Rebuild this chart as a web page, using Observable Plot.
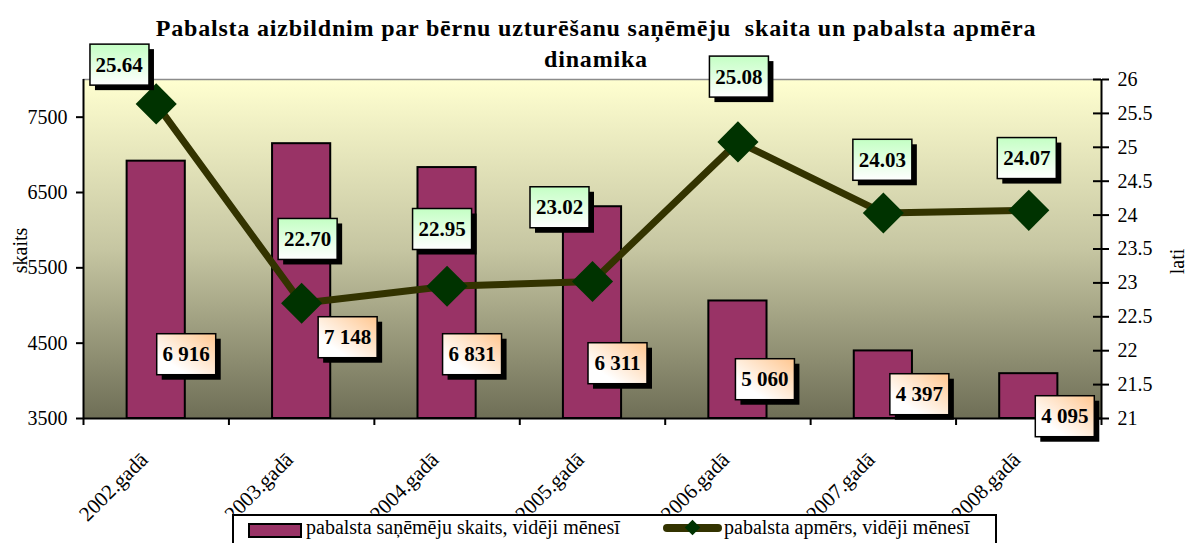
<!DOCTYPE html>
<html>
<head>
<meta charset="utf-8">
<script src="https://cdn.jsdelivr.net/npm/d3@7"></script>
<script src="https://cdn.jsdelivr.net/npm/@observablehq/plot@0.6"></script>
<style>
  body { margin: 0; background: #fff; }
  #wrap { position: relative; width: 1190px; height: 543px; overflow: hidden;
          font-family: "Liberation Serif", "Times New Roman", Tinos, "DejaVu Serif", serif; color: #000; }
  #chart { position: absolute; left: 0; top: 0; }
  .tline { position: absolute; left: 0; width: 1192px; text-align: center; white-space: pre;
           font-weight: bold; font-size: 24px; letter-spacing: 0.8px; line-height: 28px; z-index: 1; pointer-events: none; }
  .tline span { display: inline-block; }
  .ylab { position: absolute; font-size: 20px; white-space: nowrap; transform-origin: center center; }
  #legend { position: absolute; left: 232px; top: 514px; width: 761px; height: 44px;
            border: 2px solid #000; background: #fff; font-size: 20px; }
  #legend .item { position: absolute; top: 4px; white-space: nowrap; }
</style>
</head>
<body>
<div id="wrap">
  <div id="chart"></div>
  <div class="tline" id="title1" style="top:14px"><span></span></div>
  <div class="tline" id="title2" style="top:45px"><span></span></div>
  <div class="ylab" id="ylabL"></div>
  <div class="ylab" id="ylabR"></div>
  <div id="legend"></div>
</div>
<script>
// ---- data ----
const titleLines = ["Pabalsta aizbildnim par bērnu uzturēšanu saņēmēju  skaita un pabalsta apmēra", "dinamika"];
const years = ["2002.gadā", "2003.gadā", "2004.gadā", "2005.gadā", "2006.gadā", "2007.gadā", "2008.gadā"];
const recipients = [6916, 7148, 6831, 6311, 5060, 4397, 4095];
const amounts = [25.64, 22.70, 22.95, 23.02, 25.08, 24.03, 24.07];
const leftTicks = [3500, 4500, 5500, 6500, 7500];
const rightTicks = [21, 21.5, 22, 22.5, 23, 23.5, 24, 24.5, 25, 25.5, 26];
const leftAxisTitle = "skaits";
const rightAxisTitle = "lati";
const seriesNames = ["pabalsta saņēmēju skaits, vidēji mēnesī", "pabalsta apmērs, vidēji mēnesī"];

// ---- layout (pixel offsets of the data-label boxes) ----
const barLabelOffsets = [[30, -64], [46, -81], [25, -64], [25, -55], [27, -39], [36, -24], [36, -2]];
const lineLabelOffsets = [[-37, -39], [6, -64], [-5, -57], [-33, -74], [1, -65], [-1, -53], [-2, -52]];

const yMin = 3500, yMax = 8000, rMin = 21, rMax = 26;
const toLeft = v => yMin + (v - rMin) * (yMax - yMin) / (rMax - rMin);
const fromLeft = v => rMin + (v - yMin) * (rMax - rMin) / (yMax - yMin);
const fmtN = n => d3.format(",")(n).replace(/,/g, " ");

const rows = years.map((y, i) => ({ i, year: y, n: recipients[i], a: amounts[i], ay: toLeft(amounts[i]) }));

const W = 1190, H = 543, ML = 83, MR = 89, MT = 79, MB = 125;
const pxPerX = (W - ML - MR) / 7;
const FONT = "'Liberation Serif', 'Times New Roman', Tinos, 'DejaVu Serif', serif";

const chart = Plot.plot({
  width: W, height: H,
  marginLeft: ML, marginRight: MR, marginTop: MT, marginBottom: MB,
  style: { fontFamily: FONT, fontSize: "20px", color: "#000", background: "transparent", overflow: "visible" },
  x: { type: "linear", domain: [-0.5, 6.5] },
  y: { domain: [yMin, yMax] },
  marks: [
    Plot.frame({ fill: "url(#bgGrad)", stroke: "none" }),
    Plot.ruleY([yMax], { stroke: "#8c8c8c", strokeWidth: 1.5 }),
    Plot.rectY(rows, { x1: d => d.i - 0.2, x2: d => d.i + 0.2, y1: yMin, y2: "n", fill: "#993366", stroke: "#000", strokeWidth: 2 }),
    Plot.ruleX([-0.5, 6.5], { stroke: "#000", strokeWidth: 2 }),
    Plot.ruleY([yMin], { stroke: "#000", strokeWidth: 2 }),
    Plot.axisY({ ticks: leftTicks, tickFormat: d => String(d), tickSize: 7, tickPadding: 9, strokeWidth: 2, label: null, fill: "#000" }),
    Plot.axisY({ anchor: "right", ticks: rightTicks.map(toLeft), tickFormat: v => String(+fromLeft(v).toFixed(1)),
                 tickSize: 7, tickPadding: 9, strokeWidth: 2, label: null, fill: "#000" }),
    Plot.ruleY(rightTicks.map(toLeft), { x1: 6.5 - 8 / pxPerX, x2: 6.5, stroke: "#000", strokeWidth: 2 }),
    Plot.axisX({ ticks: d3.range(-0.5, 7, 1), tickSize: 7, strokeWidth: 2, tickFormat: () => "", label: null }),
    Plot.axisX({ ticks: d3.range(0, 7), tickSize: 0, tickRotate: -45, tickFormat: i => years[i], label: null,
                 fill: "#000", fontSize: 21, dx: -12, dy: 26 }),
    Plot.line(rows, { x: "i", y: "ay", stroke: "#333300", strokeWidth: 7 }),
    Plot.dot(rows, { x: "i", y: "ay", symbol: "square", r: 16.4, rotate: 45, fill: "#003300", stroke: "none" }),
    Plot.text(rows, { x: "i", y: () => yMin, text: d => fmtN(d.n), fontWeight: "bold", fontSize: 21, fill: "#000" }),
    Plot.text(rows, { x: "i", y: "ay", text: d => d.a.toFixed(2), fontWeight: "bold", fontSize: 21, fill: "#000" })
  ]
});

document.getElementById("chart").appendChild(chart);

// gradients
const NS = "http://www.w3.org/2000/svg";
const defs = document.createElementNS(NS, "defs");
defs.innerHTML = `
  <linearGradient id="bgGrad" x1="0" y1="0" x2="0" y2="1">
    <stop offset="0" stop-color="#FFFFD0"/>
    <stop offset="0.5" stop-color="#C6C6A2"/>
    <stop offset="1" stop-color="#6E6E56"/>
  </linearGradient>
  <linearGradient id="greenGrad" x1="0" y1="0" x2="0" y2="1">
    <stop offset="0" stop-color="#C4FFC4"/>
    <stop offset="1" stop-color="#FFFFFF"/>
  </linearGradient>
  <linearGradient id="peachGrad" x1="1" y1="0" x2="0" y2="1">
    <stop offset="0" stop-color="#FFC68F"/>
    <stop offset="0.75" stop-color="#FFFFFF"/>
  </linearGradient>`;
chart.insertBefore(defs, chart.firstChild);

const textGroups = Array.from(chart.querySelectorAll('g[aria-label="text"]'));

function boxLabels(g, offsets, grad) {
  if (!g) return;
  const texts = Array.from(g.querySelectorAll("text"));
  texts.forEach((t, k) => {
    const [dx, dy] = offsets[k];
    const tr = (t.getAttribute("transform") || "") + ` translate(${dx},${dy})`;
    t.setAttribute("transform", tr);
    const bb = t.getBBox();
    const cx = bb.x + bb.width / 2, cy = bb.y + bb.height / 2;
    const bw = 59, bh = 41;
    const sh = document.createElementNS(NS, "rect");
    sh.setAttribute("x", cx - bw / 2 + 5); sh.setAttribute("y", cy - bh / 2 + 5);
    sh.setAttribute("width", bw); sh.setAttribute("height", bh);
    sh.setAttribute("fill", "#000"); sh.setAttribute("transform", tr);
    const bx = document.createElementNS(NS, "rect");
    bx.setAttribute("x", cx - bw / 2); bx.setAttribute("y", cy - bh / 2);
    bx.setAttribute("width", bw); bx.setAttribute("height", bh);
    bx.setAttribute("fill", `url(#${grad})`); bx.setAttribute("stroke", "#000");
    bx.setAttribute("stroke-width", 1.5); bx.setAttribute("transform", tr);
    t.parentNode.insertBefore(sh, t);
    t.parentNode.insertBefore(bx, t);
  });
}
boxLabels(textGroups[textGroups.length - 2], barLabelOffsets, "peachGrad");
boxLabels(textGroups[textGroups.length - 1], lineLabelOffsets, "greenGrad");

// title & axis titles
document.querySelector("#title1 span").textContent = titleLines[0];
document.querySelector("#title2 span").textContent = titleLines[1];
const yl = document.getElementById("ylabL");
yl.textContent = leftAxisTitle;
yl.style.left = (20 - 25) + "px"; yl.style.top = (251 - 12) + "px"; yl.style.width = "50px"; yl.style.textAlign = "center";
yl.style.transform = "rotate(-90deg)";
const yr = document.getElementById("ylabR");
yr.textContent = rightAxisTitle;
yr.style.left = (1177 - 25) + "px"; yr.style.top = (262 - 12) + "px"; yr.style.width = "50px"; yr.style.textAlign = "center";
yr.style.transform = "rotate(-90deg)";

// legend
const lg = document.getElementById("legend");
lg.innerHTML = `
  <svg style="position:absolute;left:0;top:0" width="761" height="44">
    <rect x="15" y="8" width="52" height="13" fill="#993366" stroke="#000" stroke-width="2"/>
    <line x1="433" y1="12" x2="484" y2="12" stroke="#333300" stroke-width="8" stroke-linecap="round"/>
    <rect x="453" y="6" width="11" height="11" fill="#003300" transform="rotate(45 458.5 11.5)"/>
  </svg>
  <div class="item" style="left:72px;top:0px">${seriesNames[0]}</div>
  <div class="item" style="left:490px;top:0px">${seriesNames[1]}</div>`;
</script>
</body>
</html>
